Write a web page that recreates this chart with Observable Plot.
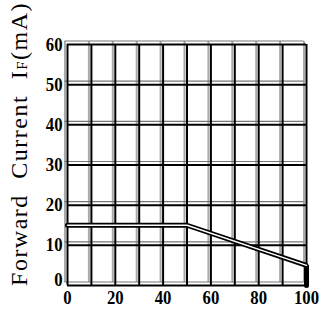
<!DOCTYPE html>
<html>
<head>
<meta charset="utf-8">
<script src="https://cdn.jsdelivr.net/npm/d3@7"></script>
<script src="https://cdn.jsdelivr.net/npm/@observablehq/plot@0.6"></script>
<style>
  html, body { margin: 0; padding: 0; background: #fff; }
  #chart { width: 321px; height: 315px; }
</style>
</head>
<body>
<div id="chart"></div>
<script>
// Tick labels
const xTicks = [0, 20, 40, 60, 80, 100];
const yTicks = [10, 20, 30, 40, 50, 60];
const yZeroTick = [0];
// Grid positions
const gridX = [0, 10, 20, 30, 40, 50, 60, 70, 80, 90, 100];
const gridY = [0, 10, 20, 30, 40, 50, 60];
// Derating curve (ambient temperature vs. forward current)
const curveTemp = [0, 50, 100, 100];
const curveCurrent = [15, 15, 5, 0];

const curve = curveTemp.map((t, i) => ({t, c: curveCurrent[i]}));

const svg = Plot.plot({
  width: 321,
  height: 315,
  marginLeft: 67,
  marginRight: 15,
  marginTop: 44,
  marginBottom: 30,
  style: {fontFamily: "'Liberation Serif', 'DejaVu Serif', serif", fontSize: "19px", fontWeight: "bold", color: "#000", background: "#fff"},
  x: {domain: [0, 100]},
  y: {domain: [0, 60]},
  marks: [
    Plot.ruleX(gridX, {x: d => d, y1: 0, y2: 60, stroke: "#aaa", strokeWidth: 2, dx: -2.5, dy: -3}),
    Plot.ruleY(gridY, {y: d => d, x1: 0, x2: 100, stroke: "#777", strokeWidth: 1.2, dx: -2.5, dy: -3.5}),
    Plot.ruleX(gridX, {x: d => d, y1: 0, y2: 60, stroke: "#000", strokeWidth: 2}),
    Plot.ruleY(gridY, {y: d => d, x1: 0, x2: 100, stroke: "#000", strokeWidth: 2}),
    Plot.line(curve, {x: "t", y: "c", stroke: "#000", strokeWidth: 5, strokeLinejoin: "miter"}),
    Plot.line(curve.slice(0, 3), {x: "t", y: "c", stroke: "#fff", strokeWidth: 1.4, strokeLinejoin: "miter"}),
    Plot.axisX({ticks: xTicks, tickSize: 0, tickPadding: 5, label: null}),
    Plot.axisY({ticks: yTicks, tickSize: 0, tickPadding: 5, label: null}),
    Plot.axisY({ticks: yZeroTick, tickSize: 0, tickPadding: 5, label: null, dy: -6})
  ]
});

const sel = d3.select(svg);
// narrow the bold tick digits slightly, like the condensed original
sel.selectAll("g[aria-label$='tick label'] text").each(function() {
  const t = this.getAttribute("transform") || "";
  this.setAttribute("transform", t + " scale(0.88,1)");
});

const lab = sel.append("text")
  .attr("transform", "translate(27,144) rotate(-90)")
  .attr("text-anchor", "middle")
  .attr("font-family", "'Liberation Serif', 'DejaVu Serif', serif")
  .attr("font-size", 24)
  .attr("font-weight", "normal")
  .attr("letter-spacing", "1.5px")
  .attr("word-spacing", "8px")
  .attr("fill", "#000");
lab.append("tspan").text("Forward Current I");
lab.append("tspan").attr("font-size", 15).text("F");
lab.append("tspan").text("(mA)");

document.getElementById("chart").appendChild(svg);
</script>
</body>
</html>
